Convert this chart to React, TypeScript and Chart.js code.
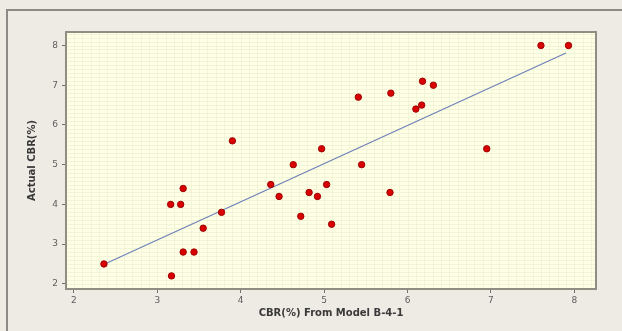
import React, { useEffect, useRef } from "react";
import { Chart, registerables } from "chart.js";

Chart.register(...registerables);

const predicted = [2.36, 3.16, 3.28, 3.31, 3.17, 3.31, 3.44, 3.55, 3.77, 3.9, 4.36, 4.46, 4.63, 4.72, 4.82, 4.92, 4.97, 5.03, 5.09, 5.41, 5.45, 5.8, 5.79, 6.1, 6.17, 6.18, 6.31, 6.95, 7.6, 7.93];
const actual = [2.5, 4.0, 4.0, 4.4, 2.2, 2.8, 2.8, 3.4, 3.8, 5.6, 4.5, 4.2, 5.0, 3.7, 4.3, 4.2, 5.4, 4.5, 3.5, 6.7, 5.0, 6.8, 4.3, 6.4, 6.5, 7.1, 7.0, 5.4, 8.0, 8.0];
const fitX = [2.37, 7.9];
const fitY = [2.5, 7.81];
const xTicks = [2, 3, 4, 5, 6, 7, 8];
const yTicks = [2, 3, 4, 5, 6, 7, 8];
const xTitle = "CBR(%) From Model B-4-1";
const yTitle = "Actual CBR(%)";

const backgroundPlugin = {
  id: "bgFrame",
  beforeDraw(chart: any) {
    const { ctx, width, height, chartArea } = chart;
    ctx.save();
    ctx.fillStyle = "#EEEAE4";
    ctx.fillRect(0, 0, width, height);
    ctx.strokeStyle = "#8C8A86";
    ctx.lineWidth = 2;
    ctx.beginPath();
    ctx.moveTo(7, height);
    ctx.lineTo(7, 10);
    ctx.lineTo(width, 10);
    ctx.stroke();
    ctx.fillStyle = "#FFFFE6";
    ctx.fillRect(chartArea.left, chartArea.top, chartArea.right - chartArea.left, chartArea.bottom - chartArea.top);
    const xs = chart.scales.x;
    const ys = chart.scales.y;
    ctx.lineWidth = 1;
    ctx.strokeStyle = "rgba(240,242,212,0.85)";
    for (let i = 19; i <= 83; i++) {
      const px = Math.round(xs.getPixelForValue(i / 10)) + 0.5;
      if (px <= chartArea.left + 1 || px >= chartArea.right - 1) continue;
      ctx.beginPath();
      ctx.moveTo(px, chartArea.top);
      ctx.lineTo(px, chartArea.bottom);
      ctx.stroke();
    }
    for (let i = 18; i <= 84; i++) {
      const py = Math.round(ys.getPixelForValue(i / 10)) + 0.5;
      if (py <= chartArea.top + 1 || py >= chartArea.bottom - 1) continue;
      ctx.beginPath();
      ctx.moveTo(chartArea.left, py);
      ctx.lineTo(chartArea.right, py);
      ctx.stroke();
    }
    ctx.restore();
  },
  afterDatasetsDraw(chart: any) {
    const { ctx, chartArea } = chart;
    ctx.save();
    ctx.strokeStyle = "#8E8E82";
    ctx.lineWidth = 2;
    ctx.strokeRect(chartArea.left, chartArea.top, chartArea.right - chartArea.left, chartArea.bottom - chartArea.top);
    ctx.restore();
  },
};

export default function App() {
  const ref = useRef<HTMLCanvasElement>(null);
  useEffect(() => {
    document.body.style.margin = "0";
    const chart = new Chart(ref.current as HTMLCanvasElement, {
      type: "scatter",
      data: {
        datasets: [
          {
            type: "line",
            data: fitX.map((x, i) => ({ x, y: fitY[i] })),
            borderColor: "#6E80B8",
            borderWidth: 1.2,
            pointRadius: 0,
            fill: false,
            order: 2,
          } as any,
          {
            data: predicted.map((x, i) => ({ x, y: actual[i] })),
            backgroundColor: "#D80000",
            borderColor: "#A00000",
            borderWidth: 1,
            pointRadius: 3.2,
            order: 1,
          },
        ],
      },
      options: {
        animation: false,
        responsive: false,
        maintainAspectRatio: false,
        layout: { padding: { top: 32, right: 26, left: 0, bottom: 0 } },
        plugins: { legend: { display: false }, tooltip: { enabled: false } },
        scales: {
          x: {
            type: "linear",
            min: 1.905,
            max: 8.26,
            afterBuildTicks: (s: any) => {
              s.ticks = xTicks.map((v) => ({ value: v }));
            },
            afterFit: (s: any) => {
              s.height = 42;
            },
            grid: { drawOnChartArea: false, color: "#6E6E6E", tickLength: 4, tickWidth: 1 },
            border: { display: false },
            ticks: { color: "#5E5E5E", font: { family: "DejaVu Sans", size: 9 }, padding: 2, autoSkip: false, maxRotation: 0 },
            title: {
              display: true,
              text: xTitle,
              color: "#3A3A3A",
              font: { family: "DejaVu Sans", size: 10, weight: "bold" },
              padding: { top: 0, bottom: 12 },
            },
          },
          y: {
            type: "linear",
            min: 1.87,
            max: 8.34,
            afterBuildTicks: (s: any) => {
              s.ticks = yTicks.map((v) => ({ value: v }));
            },
            afterFit: (s: any) => {
              s.width = 66;
            },
            grid: { drawOnChartArea: false, color: "#6E6E6E", tickLength: 4, tickWidth: 1 },
            border: { display: false },
            ticks: { color: "#5E5E5E", font: { family: "DejaVu Sans", size: 9 }, padding: 4 },
            title: {
              display: true,
              text: yTitle,
              color: "#3A3A3A",
              font: { family: "DejaVu Sans", size: 10, weight: "bold" },
              padding: { top: 26, bottom: 0 },
            },
          },
        },
      },
      plugins: [backgroundPlugin],
    });
    return () => chart.destroy();
  }, []);
  return (
    <div style={{ position: "absolute", left: 0, top: 0, width: 622, height: 331 }}>
      <canvas ref={ref} width={622} height={331} />
    </div>
  );
}
